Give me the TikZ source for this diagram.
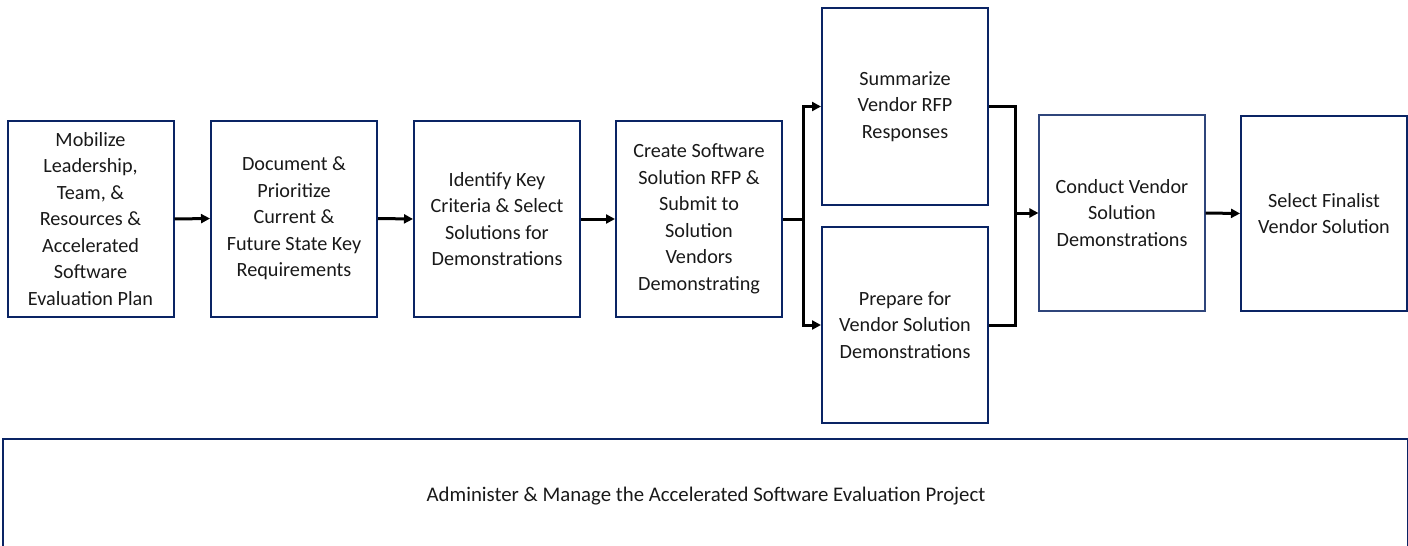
\documentclass[tikz,border=0pt]{standalone}
\usepackage{fontspec}
\setmainfont{Carlito}
\usetikzlibrary{arrows.meta}
\definecolor{navy}{HTML}{0A2464}
\begin{document}
\begin{tikzpicture}[x=1pt,y=-1pt,
  box/.style={draw=navy,line width=2pt,rectangle,inner sep=0pt,minimum width=166pt,minimum height=196pt,
    align=center,font=\fontsize{20.2}{26.5}\selectfont,text=black!90},
  thinbox/.style={box,line width=1.2pt,draw=navy!85},
  flow/.style={line width=3pt,black,line join=miter},
  arr/.style={flow,-{Triangle[length=9pt,width=9pt]}}]
\useasboundingbox (0,0) rectangle (1408,546);
\node[box] (b1) at (90.5,219) {Mobilize\\Leadership,\\Team, \&\\Resources \&\\Accelerated\\Software\\Evaluation Plan};
\node[box] (b2) at (294,218.5) {Document \&\\Prioritize\\Current \&\\Future State Key\\Requirements};
\node[box] (b3) at (497,219) {Identify Key\\Criteria \& Select\\Solutions for\\Demonstrations};
\node[box] (b4) at (699,219) {Create Software\\Solution RFP \&\\Submit to\\Solution\\Vendors\\Demonstrating};
\node[box,minimum height=197pt] (b5) at (905,106.5) {Summarize\\Vendor RFP\\Responses};
\node[box] (b6) at (905,325) {Prepare for\\Vendor Solution\\Demonstrations};
\node[thinbox] (b7) at (1122,213) {Conduct Vendor\\Solution\\Demonstrations};
\node[box,minimum height=195pt] (b8) at (1324,213.5) {Select Finalist\\Vendor Solution};
\node[box,minimum width=1405pt,minimum height=130pt] (b9) at (705.5,504) {};
\node[font=\fontsize{20.8}{26.5}\selectfont,text=black!90] (t9) at (706,496) {Administer \& Manage the Accelerated Software Evaluation Project};
\draw[arr] (b1.east) -- (b2.west);
\draw[arr] (b2.east) -- (b3.west);
\draw[arr] (b3.east) -- (b4.west);
\draw[flow] (b4.east) -- ++(20,0) coordinate (f1);
\draw[arr] (f1) |- (b5.west);
\draw[arr] (f1) |- (b6.west);
\coordinate (j) at (1015,213);
\draw[flow] (b5.east) -| (j);
\draw[flow] (b6.east) -| (j);
\draw[arr] (j) -- (b7.west);
\draw[arr] (b7.east) -- (b8.west);
\end{tikzpicture}
\end{document}
